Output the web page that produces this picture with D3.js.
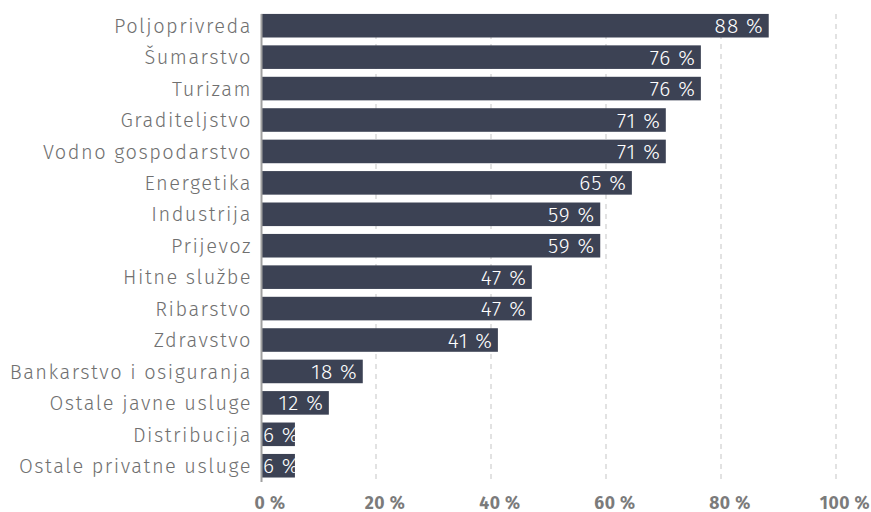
<!DOCTYPE html>
<html>
<head>
<meta charset="utf-8">
<script src="https://cdn.jsdelivr.net/npm/d3@7"></script>
<style>
  body { margin: 0; background: #fff; }
  text { font-family: "Fira Sans", "Open Sans", sans-serif; }
</style>
</head>
<body>
<div id="chart"></div>
<script>
// sectors, top to bottom
var categories = ["Poljoprivreda", "Šumarstvo", "Turizam", "Graditeljstvo", "Vodno gospodarstvo",
  "Energetika", "Industrija", "Prijevoz", "Hitne službe", "Ribarstvo", "Zdravstvo",
  "Bankarstvo i osiguranja", "Ostale javne usluge", "Distribucija", "Ostale privatne usluge"];
// bar lengths (percent)
var values = [88.3, 76.5, 76.5, 70.4, 70.4, 64.5, 59, 59, 47.1, 47.1, 41.2, 17.7, 11.8, 5.9, 5.9];
// printed labels
var labels = [88, 76, 76, 71, 71, 65, 59, 59, 47, 47, 41, 18, 12, 6, 6];
var ticks = [0, 20, 40, 60, 80, 100];

var width = 871, height = 512;
var margin = {left: 261, right: 35, top: 10};

var svg = d3.select("#chart")
  .append("svg")
    .attr("width", width)
    .attr("height", height);

var x = d3.scaleLinear()
  .domain([0, 100])
  .range([margin.left, width - margin.right]);

var y = d3.scaleBand()
  .domain(categories)
  .range([margin.top, margin.top + 31.43 * categories.length])
  .paddingInner(0.25)
  .paddingOuter(0.125);

// dashed gridlines
svg.append("g")
  .selectAll("line")
  .data(ticks.slice(1))
  .enter()
  .append("line")
    .attr("x1", function (d) { return x(d); })
    .attr("x2", function (d) { return x(d); })
    .attr("y1", 14)
    .attr("y2", 482)
    .attr("stroke", "#cfcfcf")
    .attr("stroke-width", 1.2)
    .attr("stroke-dasharray", "5,5");

// x tick labels
svg.append("g")
  .selectAll("text")
  .data(ticks)
  .enter()
  .append("text")
    .attr("x", function (d) { return x(d) + 9; })
    .attr("y", 509)
    .attr("text-anchor", "middle")
    .style("font-size", "17.5px")
    .style("font-weight", "bold")
    .style("letter-spacing", "0.5px")
    .style("fill", "#7b7b7b")
    .text(function (d) { return d + " %"; });

// clip paths so labels stay inside their bars
var defs = svg.append("defs");
defs.selectAll("clipPath")
  .data(categories)
  .enter()
  .append("clipPath")
    .attr("id", function (d, i) { return "clip" + i; })
  .append("rect")
    .attr("x", x(0))
    .attr("y", function (d) { return y(d); })
    .attr("width", function (d, i) { return x(values[i]) - x(0); })
    .attr("height", y.bandwidth());

// bars
svg.append("g")
  .selectAll("rect")
  .data(categories)
  .enter()
  .append("rect")
    .attr("x", x(0))
    .attr("y", function (d) { return y(d); })
    .attr("width", function (d, i) { return x(values[i]) - x(0); })
    .attr("height", y.bandwidth())
    .attr("fill", "#3c4254");

// value labels inside bars
svg.append("g")
  .selectAll("text")
  .data(categories)
  .enter()
  .append("text")
    .attr("clip-path", function (d, i) { return "url(#clip" + i + ")"; })
    .attr("y", function (d) { return y(d) + y.bandwidth() / 2; })
    .attr("dy", "0.36em")
    .style("font-size", "21px")
    .style("font-weight", "300")
    .style("letter-spacing", "1px")
    .style("fill", "#ffffff")
    .text(function (d, i) { return labels[i] + " %"; })
    .each(function (d, i) {
      var w = this.getComputedTextLength();
      var end = x(values[i]) - 5;
      var start = Math.max(x(0) + 2, end - w);
      d3.select(this).attr("x", start);
    });

// category labels
svg.append("g")
  .selectAll("text")
  .data(categories)
  .enter()
  .append("text")
    .attr("x", 252)
    .attr("y", function (d) { return y(d) + y.bandwidth() / 2; })
    .attr("dy", "0.36em")
    .attr("text-anchor", "end")
    .style("font-size", "20px")
    .style("font-weight", "300")
    .style("letter-spacing", "1.5px")
    .style("fill", "#707070")
    .text(function (d) { return d; });

// axis line
svg.append("line")
  .attr("x1", x(0) + 0.5)
  .attr("x2", x(0) + 0.5)
  .attr("y1", 14)
  .attr("y2", 482)
  .attr("stroke", "#a0a0a0")
  .attr("stroke-width", 2);
</script>
</body>
</html>
